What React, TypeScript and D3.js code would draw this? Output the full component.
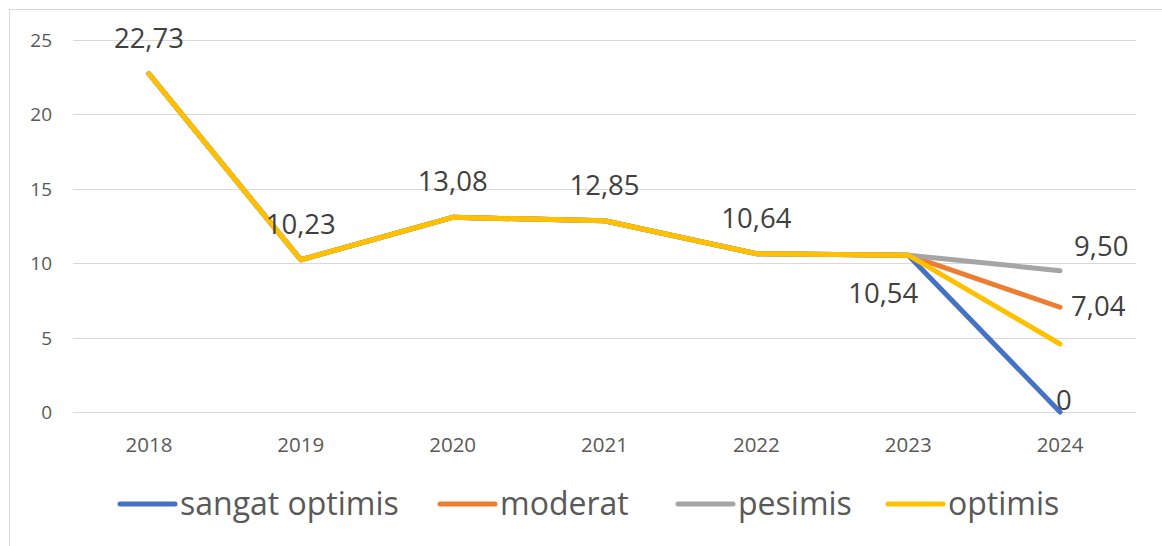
import React from "react";
import * as d3 from "d3";

const categories = ["2018", "2019", "2020", "2021", "2022", "2023", "2024"];
const seriesNames = ["sangat optimis", "moderat", "pesimis", "optimis"];
const sangatOptimis = [22.73, 10.23, 13.08, 12.85, 10.64, 10.54, 0];
const moderat = [22.73, 10.23, 13.08, 12.85, 10.64, 10.54, 7.04];
const pesimis = [22.73, 10.23, 13.08, 12.85, 10.64, 10.54, 9.5];
const optimis = [22.73, 10.23, 13.08, 12.85, 10.64, 10.54, 4.57];
const yTicks = [0, 5, 10, 15, 20, 25];

const seriesValues = [sangatOptimis, moderat, pesimis, optimis];
const colors = ["#4472C4", "#ED7D31", "#A5A5A5", "#FFC000"];

// visible data labels: [series index, category index, placement]
const labels: [number, number, string][] = [
  [3, 0, "above"],
  [3, 1, "above"],
  [3, 2, "above"],
  [3, 3, "above"],
  [3, 4, "above"],
  [1, 5, "belowLeft"],
  [2, 6, "aboveRight"],
  [1, 6, "right"],
  [0, 6, "onPoint"],
];

const legendX = [120, 440, 678, 888];

const W = 1162;
const H = 546;
const left = 73;
const right = 1136;
const top = 40;
const bottom = 412;

const fmt = (v: number) => (v === 0 ? "0" : v.toFixed(2).replace(".", ","));

export default function App() {
  const x = d3.scaleBand<string>().domain(categories).range([left, right]);
  const y = d3.scaleLinear().domain([0, 25]).range([bottom, top]);
  const cx = (i: number) => (x(categories[i]) as number) + x.bandwidth() / 2;
  const line = d3
    .line<number>()
    .x((_, i) => cx(i))
    .y((d) => y(d));

  const font = "'Open Sans', sans-serif";

  const labelPos = (s: number, i: number, p: string) => {
    const px = cx(i);
    const py = y(seriesValues[s][i]);
    switch (p) {
      case "above":
        return { x: px, y: py - 26, anchor: "middle" };
      case "belowLeft":
        return { x: px - 25, y: py + 48, anchor: "middle" };
      case "aboveRight":
        return { x: px + 14, y: py - 15, anchor: "start" };
      case "right":
        return { x: px + 11, y: py + 9, anchor: "start" };
      default:
        return { x: px - 4, y: py - 2, anchor: "start" };
    }
  };

  return (
    <svg
      width={W}
      height={H}
      style={{ position: "absolute", left: 0, top: 0, background: "#fff" }}
    >
      <rect x={9.5} y={9.5} width={W + 10} height={H + 10} fill="#fff" stroke="#D9D9D9" />
      {yTicks.map((t) => (
        <g key={t}>
          <line x1={left} x2={right} y1={Math.round(y(t)) + 0.5} y2={Math.round(y(t)) + 0.5} stroke="#D9D9D9" strokeWidth={1} />
          <text x={52} y={y(t) + 7} textAnchor="end" fontFamily={font} fontSize={19} fill="#595959">
            {t}
          </text>
        </g>
      ))}
      {categories.map((c, i) => (
        <text key={c} x={cx(i)} y={452} textAnchor="middle" fontFamily={font} fontSize={20.5} fill="#595959">
          {c}
        </text>
      ))}
      {seriesValues.map((vals, s) => (
        <path
          key={s}
          d={line(vals) || ""}
          fill="none"
          stroke={colors[s]}
          strokeWidth={5}
          strokeLinejoin="round"
          strokeLinecap="round"
        />
      ))}
      {labels.map(([s, i, p], k) => {
        const lp = labelPos(s, i, p);
        return (
          <text key={k} x={lp.x} y={lp.y} textAnchor={lp.anchor as any} fontFamily={font} fontSize={27.5} fill="#404040">
            {fmt(seriesValues[s][i])}
          </text>
        );
      })}
      {seriesNames.map((n, s) => (
        <g key={n}>
          <line x1={legendX[s]} x2={legendX[s] + 55} y1={504} y2={504} stroke={colors[s]} strokeWidth={5} strokeLinecap="round" />
          <text x={legendX[s] + 60} y={515} fontFamily={font} fontSize={32} fill="#595959">
            {n}
          </text>
        </g>
      ))}
    </svg>
  );
}
